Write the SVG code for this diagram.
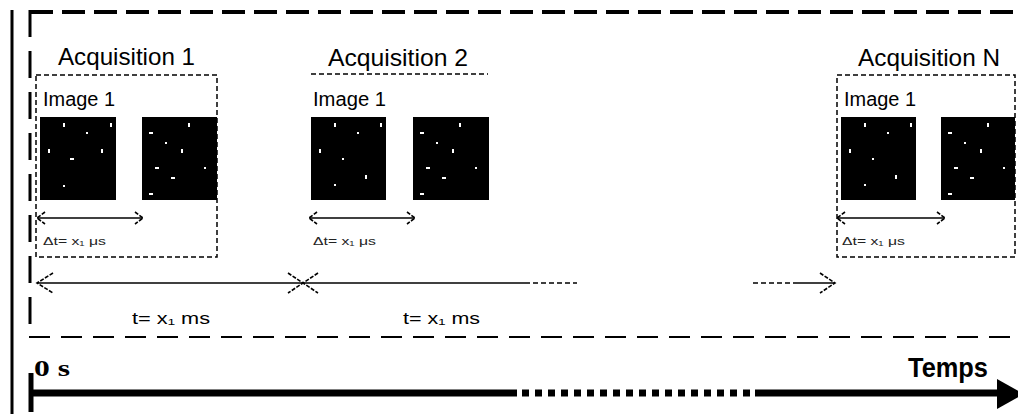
<svg xmlns="http://www.w3.org/2000/svg" width="1018" height="414" viewBox="0 0 1018 414">
<style>
.t{font-family:"Liberation Sans",Arial,sans-serif;fill:#000}
.title{font-size:24px}
.img{font-size:20px}
.dt{font-size:11px;fill:#222}
.tl{font-size:16px}
.box{fill:none;stroke:#000;stroke-width:1.5;stroke-dasharray:5 3}
.sq{fill:#000}
.ln{stroke:#000;stroke-width:1.5;fill:none}
.ah{stroke:#000;stroke-width:1.6;fill:none;stroke-dasharray:4 1.5}
</style>
<defs>
<g id="dotsA" fill="#fff">
<rect x="23" y="6" width="2" height="4"/><rect x="70" y="6" width="2" height="4"/><rect x="46" y="15" width="2" height="2"/>
<rect x="8" y="32" width="2" height="4"/><rect x="61" y="32" width="2" height="4"/><rect x="30" y="41" width="4" height="2"/>
<rect x="23" y="68" width="2" height="2"/>
</g>
<g id="dotsA2" fill="#fff">
<rect x="23" y="6" width="2" height="4"/><rect x="69" y="6" width="2" height="4"/><rect x="46" y="15" width="2" height="2"/>
<rect x="8" y="32" width="2" height="4"/><rect x="31" y="41" width="2" height="2"/><rect x="54" y="58" width="2" height="4"/>
<rect x="23" y="67" width="2" height="2"/>
</g>
<g id="dotsB" fill="#fff">
<rect x="46" y="6" width="2" height="4"/><rect x="7" y="15" width="4" height="2"/><rect x="23" y="25" width="2" height="2"/>
<rect x="39" y="32" width="2" height="4"/><rect x="13" y="50" width="4" height="2"/><rect x="62" y="50" width="2" height="2"/>
<rect x="29" y="60" width="4" height="2"/><rect x="7" y="76" width="4" height="2"/>
</g>
</defs>

<g id="frame">
<line x1="12" y1="10" x2="12" y2="414" stroke="#000" stroke-width="3"/>
<line x1="30" y1="12" x2="1030" y2="12" stroke="#000" stroke-width="4" stroke-dasharray="23 9"/>
<line x1="30" y1="10" x2="30" y2="338" stroke="#000" stroke-width="3" stroke-dasharray="27 14"/>
<line x1="29" y1="337" x2="1030" y2="337" stroke="#000" stroke-width="2" stroke-dasharray="21 11"/>
</g>

<g id="acq1">
<text class="t title" x="58" y="65" textLength="137" lengthAdjust="spacingAndGlyphs">Acquisition 1</text>
<rect class="box" x="36" y="75" width="181" height="182"/>
<text class="t img" x="43" y="106" textLength="72" lengthAdjust="spacingAndGlyphs">Image 1</text>
<rect class="sq" x="40" y="117" width="76" height="83"/>
<use href="#dotsA" x="40" y="117"/>
<rect class="sq" x="142" y="117" width="75" height="83"/>
<use href="#dotsB" x="142" y="117"/>
<text class="t dt" x="43" y="245" textLength="63" lengthAdjust="spacingAndGlyphs">Δt= x₁ μs</text>
</g>

<g id="acq2">
<text class="t title" x="328" y="66" textLength="140" lengthAdjust="spacingAndGlyphs">Acquisition 2</text>
<line class="box" x1="311" y1="74" x2="488" y2="74"/>
<text class="t img" x="313" y="106" textLength="73" lengthAdjust="spacingAndGlyphs">Image 1</text>
<rect class="sq" x="311" y="117" width="75" height="83"/>
<use href="#dotsA2" x="311" y="117"/>
<rect class="sq" x="413" y="117" width="76" height="83"/>
<use href="#dotsB" x="413" y="117"/>
<text class="t dt" x="313" y="245" textLength="63" lengthAdjust="spacingAndGlyphs">Δt= x₁ μs</text>
</g>

<g id="acqN">
<text class="t title" x="858" y="66" textLength="142" lengthAdjust="spacingAndGlyphs">Acquisition N</text>
<rect class="box" x="837" y="75" width="178" height="182"/>
<text class="t img" x="844" y="106" textLength="72" lengthAdjust="spacingAndGlyphs">Image 1</text>
<rect class="sq" x="841" y="117" width="75" height="83"/>
<use href="#dotsA2" x="841" y="117"/>
<rect class="sq" x="941" y="117" width="74" height="83"/>
<use href="#dotsB" x="941" y="117"/>
<text class="t dt" x="842" y="245" textLength="63" lengthAdjust="spacingAndGlyphs">Δt= x₁ μs</text>
</g>

<g id="timeLabels">
<text class="t tl" x="132" y="324" textLength="78" lengthAdjust="spacingAndGlyphs">t= x₁ ms</text>
<text class="t tl" x="403" y="324" textLength="77" lengthAdjust="spacingAndGlyphs">t= x₁ ms</text>
</g>

<g id="connectors">
<line class="ln" x1="37" y1="218" x2="143" y2="218"/>
<polyline class="ah" points="45,212 37,218 45,224"/>
<polyline class="ah" points="135,212 143,218 135,224"/>
<line class="ln" x1="309" y1="218" x2="415" y2="218"/>
<polyline class="ah" points="317,212 309,218 317,224"/>
<polyline class="ah" points="407,212 415,218 407,224"/>
<line class="ln" x1="837" y1="218" x2="945" y2="218"/>
<polyline class="ah" points="845,212 837,218 845,224"/>
<polyline class="ah" points="937,212 945,218 937,224"/>
<line class="ln" x1="37" y1="283" x2="303" y2="283"/>
<polyline class="ah" points="53,273 37,283 53,293"/>
<polyline class="ah" points="288,273 303,283 288,293"/>
<polyline class="ah" points="318,273 303,283 318,293"/>
<line class="ln" x1="303" y1="283" x2="525" y2="283"/>
<line class="ln" x1="525" y1="283" x2="577" y2="283" stroke-dasharray="5 3"/>
<line class="ln" x1="753" y1="283" x2="797" y2="283" stroke-dasharray="5 3"/>
<line class="ln" x1="797" y1="283" x2="835" y2="283"/>
<polyline class="ah" points="820,273 835,283 820,293"/>
</g>

<g id="timeline">
<line x1="31" y1="373" x2="31" y2="412" stroke="#000" stroke-width="5"/>
<line x1="31" y1="393" x2="517" y2="393" stroke="#000" stroke-width="7"/>
<line x1="522" y1="393" x2="750" y2="393" stroke="#000" stroke-width="7" stroke-dasharray="7 6"/>
<line x1="755" y1="393" x2="999" y2="393" stroke="#000" stroke-width="7"/>
<polygon points="997,379 1024,394 997,409" fill="#000"/>
<text x="34" y="376" font-family="Liberation Serif,serif" font-weight="bold" font-size="23" textLength="36" lengthAdjust="spacingAndGlyphs">0 s</text>
<text x="908" y="377" font-family="Liberation Sans,Arial,sans-serif" font-weight="bold" font-size="28" textLength="80" lengthAdjust="spacingAndGlyphs">Temps</text>
</g>
</svg>
